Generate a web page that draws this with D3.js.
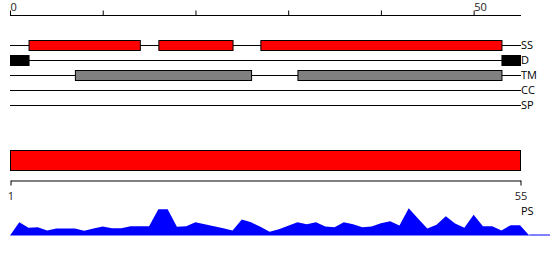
<!DOCTYPE html>
<html>
<head>
<meta charset="utf-8">
<script src="https://cdn.jsdelivr.net/npm/d3@7"></script>
<style>
  body { margin: 0; background: #fff; }
  svg { display: block; font-family: "Open Sans", sans-serif; }
</style>
</head>
<body>
<div id="chart"></div>
<script>
// ── Data ──────────────────────────────────────────────────────
const trackNames = ['SS', 'D', 'TM', 'CC', 'SP'];
const ssSegments = [[2, 14], [16, 24], [27, 53]];
const dSegments = [[0, 2], [53, 55]];
const tmSegments = [[7, 26], [31, 53]];
const topTicks = [0, 10, 20, 30, 40, 50];
const topLabels = [0, 50];
const bottomSpan = [1, 55];
// PS profile, one value per position 0..60
const psValues = [
  0, 13.3, 7.7, 8.3, 5, 7, 7, 7, 4.7, 7,
  9, 7.3, 7.3, 9.3, 9.3, 9.3, 26.3, 26.3, 8.7, 9.3,
  13.3, 11.3, 9.3, 7.3, 5, 16, 13.3, 8.7, 3.7, 6.3,
  9.7, 13.3, 11.3, 13.3, 9, 8.3, 13.3, 11.3, 8.3, 9,
  12.3, 14.3, 10, 27.3, 17, 7, 10.7, 19.3, 12, 7.7,
  20.7, 9.3, 9.3, 5, 10.3, 10.3, 0, 0, 0, 0, 0
];

const W = 550, H = 260;
const svg = d3.select('#chart').append('svg')
  .attr('width', W).attr('height', H);

// ── Scales ────────────────────────────────────────────────────
const x = d3.scaleLinear().domain([0, 55]).range([10, 520]);
const xb = d3.scaleLinear().domain(bottomSpan).range([10, 520]);
const yTrack = d3.scalePoint().domain(trackNames).range([45, 105]);
const yPs = d3.scaleLinear().domain([0, 30]).range([235.5, 205.5]);

// ── Top axis ──────────────────────────────────────────────────
const topAxis = svg.append('g')
  .attr('transform', 'translate(0,15.5)')
  .call(d3.axisTop(x).tickValues(topTicks).tickSize(5).tickSizeOuter(0)
    .tickFormat(d => topLabels.includes(d) ? d : ''));
topAxis.select('.domain').attr('d', `M${x(0)},0H${x(55) + 1}`);
topAxis.selectAll('text')
  .attr('text-anchor', 'start').attr('y', -5).attr('dy', 0)
  .attr('font-size', 11).attr('font-family', '"Open Sans", sans-serif')
  .attr('fill', '#222');

// ── Tracks ────────────────────────────────────────────────────
const tracks = svg.append('g');
tracks.selectAll('line').data(trackNames).join('line')
  .attr('x1', x(0)).attr('x2', x(55) + 1)
  .attr('y1', d => yTrack(d) + 0.5).attr('y2', d => yTrack(d) + 0.5)
  .attr('stroke', '#000').attr('stroke-width', 1);

tracks.selectAll('text').data(trackNames).join('text')
  .attr('x', x(55) + 1)
  .attr('y', d => yTrack(d) + 0.5)
  .attr('dy', '0.35em')
  .attr('font-size', 11)
  .attr('fill', '#000')
  .text(d => d);

function drawSegments(segs, track, fill) {
  tracks.append('g').selectAll('rect').data(segs).join('rect')
    .attr('x', d => x(d[0]) + 0.5)
    .attr('width', d => x(d[1]) - x(d[0]))
    .attr('y', yTrack(track) - 4.5)
    .attr('height', 10)
    .attr('fill', fill)
    .attr('stroke', '#000')
    .attr('stroke-width', 1);
}
drawSegments(ssSegments, 'SS', '#ff0000');
drawSegments(dSegments, 'D', '#000');
drawSegments(tmSegments, 'TM', '#808080');

// ── Full span bar + bottom axis ───────────────────────────────
svg.append('rect')
  .attr('x', xb(bottomSpan[0]) + 0.5)
  .attr('width', xb(bottomSpan[1]) - xb(bottomSpan[0]))
  .attr('y', 150.5).attr('height', 20)
  .attr('fill', '#ff0000').attr('stroke', '#000').attr('stroke-width', 1);

const botAxis = svg.append('g')
  .attr('transform', 'translate(0.5,180.5)')
  .call(d3.axisBottom(xb).tickValues(bottomSpan).tickSize(5).tickSizeOuter(0));
botAxis.selectAll('text')
  .attr('y', 19.5).attr('dy', 0)
  .attr('font-size', 11).attr('font-family', '"Open Sans", sans-serif')
  .attr('fill', '#222');

// ── PS profile ────────────────────────────────────────────────
svg.append('text')
  .attr('x', 521).attr('y', 215)
  .attr('font-size', 11).attr('fill', '#000')
  .text('PS');

const area = d3.area()
  .x((d, i) => x(i))
  .y0(yPs(0))
  .y1(d => yPs(d));
svg.append('path')
  .datum(psValues.slice(0, 57))
  .attr('d', area)
  .attr('fill', '#0000ff');

const tail = psValues.map((v, i) => [i, v]).slice(56);
svg.append('path')
  .datum(tail)
  .attr('d', d3.line().x(d => x(d[0])).y(d => yPs(d[1]) - 0.5))
  .attr('fill', 'none')
  .attr('stroke', '#0000ff')
  .attr('stroke-width', 1);
</script>
</body>
</html>
